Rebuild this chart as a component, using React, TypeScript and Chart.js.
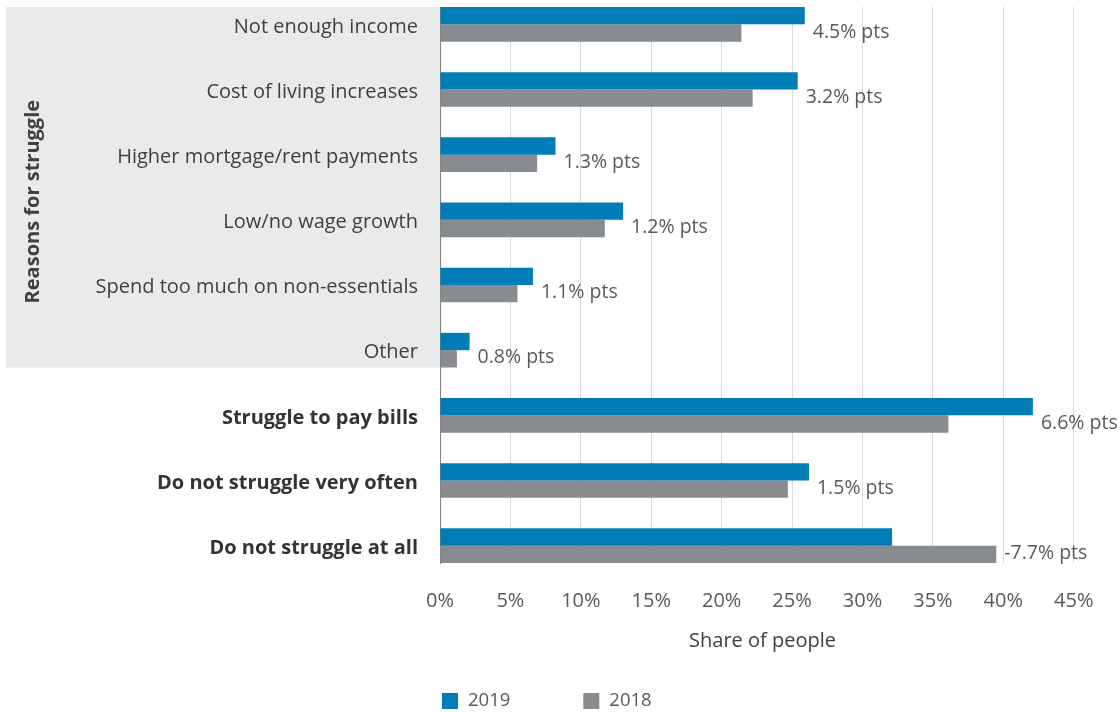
import React, { useEffect, useRef } from "react";
import { Chart, registerables } from "chart.js";

Chart.register(...registerables);

const FONT = "'Open Sans', 'Noto Sans', sans-serif";
Chart.defaults.font.family = FONT;
Chart.defaults.font.size = 20;

// ---- data ----
const categories = [
  "Not enough income",
  "Cost of living increases",
  "Higher mortgage/rent payments",
  "Low/no wage growth",
  "Spend too much on non-essentials",
  "Other",
  "Struggle to pay bills",
  "Do not struggle very often",
  "Do not struggle at all",
];
const boldFrom = 6; // categories from this index are shown in bold
const reasonsCount = 6; // first six categories belong to "Reasons for struggle"
const groupTitle = "Reasons for struggle";
const seriesNames = ["2019", "2018"];
const values2019 = [25.9, 25.4, 8.2, 13.0, 6.6, 2.1, 42.1, 26.2, 32.1];
const values2018 = [21.4, 22.2, 6.9, 11.7, 5.5, 1.2, 36.1, 24.7, 39.5];
const changeLabels = [
  "4.5% pts",
  "3.2% pts",
  "1.3% pts",
  "1.2% pts",
  "1.1% pts",
  "0.8% pts",
  "6.6% pts",
  "1.5% pts",
  "-7.7% pts",
];
const xTickValues = [0, 5, 10, 15, 20, 25, 30, 35, 40, 45];
const xTitle = "Share of people";

const BLUE = "#007cb7";
const GREY = "#888b8f";

const decorPlugin = {
  id: "decor",
  beforeDraw(chart: any) {
    const { ctx, chartArea } = chart;
    const b19 = chart.getDatasetMeta(0).data;
    const b18 = chart.getDatasetMeta(1).data;
    if (!b19.length) return;
    const first = b19[0];
    const last = b18[reasonsCount - 1];
    const top = first.y - first.height / 2;
    const bottom = last.y + last.height / 2;
    ctx.save();
    ctx.fillStyle = "#e9eaea";
    ctx.fillRect(6, top, chartArea.left - 6, bottom - top);
    ctx.translate(33.5, top + (bottom - top) * 0.54);
    ctx.rotate(-Math.PI / 2);
    ctx.font = `bold 20px ${FONT}`;
    ctx.fillStyle = "#404040";
    ctx.textAlign = "center";
    ctx.textBaseline = "middle";
    ctx.fillText(groupTitle, 0, 0);
    ctx.restore();
  },
  afterDatasetsDraw(chart: any) {
    const { ctx } = chart;
    const b19 = chart.getDatasetMeta(0).data;
    const b18 = chart.getDatasetMeta(1).data;
    ctx.save();
    ctx.font = `19.5px ${FONT}`;
    ctx.fillStyle = "#595959";
    ctx.textAlign = "left";
    ctx.textBaseline = "middle";
    changeLabels.forEach((t, i) => {
      const a = b19[i];
      const b = b18[i];
      if (!a || !b) return;
      const x = Math.max(a.x, b.x) + 8;
      ctx.fillText(t, x, b.y - 1);
    });
    ctx.restore();
  },
  afterDraw(chart: any) {
    const { ctx, chartArea } = chart;
    const yc = chart.height - 12;
    let x = chartArea.left + 2;
    ctx.save();
    ctx.font = `18.5px ${FONT}`;
    ctx.textAlign = "left";
    ctx.textBaseline = "middle";
    chart.data.datasets.forEach((ds: any) => {
      ctx.fillStyle = ds.backgroundColor;
      ctx.fillRect(x, yc - 8, 16, 16);
      ctx.fillStyle = "#595959";
      ctx.fillText(ds.label, x + 26, yc);
      x += 26 + ctx.measureText(ds.label).width + 73;
    });
    ctx.restore();
  },
};

export default function App() {
  const ref = useRef<HTMLCanvasElement | null>(null);

  useEffect(() => {
    if (!ref.current) return;
    const chart = new Chart(ref.current, {
      type: "bar",
      data: {
        datasets: [
          {
            label: seriesNames[0],
            data: values2019.map((v, i) => ({ x: v, y: i })),
            backgroundColor: BLUE,
            borderWidth: 0,
          },
          {
            label: seriesNames[1],
            data: values2018.map((v, i) => ({ x: v, y: i })),
            backgroundColor: GREY,
            borderWidth: 0,
          },
        ],
      },
      options: {
        animation: false,
        responsive: false,
        indexAxis: "y",
        layout: { padding: { top: 7, left: 0, right: 35, bottom: 60 } },
        plugins: {
          legend: { display: false },
          tooltip: { enabled: false },
        },
        datasets: {
          bar: { categoryPercentage: 0.532, barPercentage: 1 },
        },
        scales: {
          x: {
            type: "linear",
            position: "bottom",
            min: 0,
            max: 45.8,
            bounds: "data",
            grid: {
              color: "#d9d9d9",
              lineWidth: 1,
              drawTicks: true,
              tickLength: 26,
              tickColor: "rgba(0,0,0,0)",
            },
            border: { display: false },
            afterBuildTicks: (s: any) => {
              s.ticks = xTickValues.map((v) => ({ value: v }));
            },
            ticks: {
              padding: 0,
              color: "#595959",
              font: { size: 20 },
              autoSkip: false,
              maxRotation: 0,
              callback: (v: any) => `${v}%`,
            },
            title: {
              display: true,
              text: xTitle,
              color: "#404040",
              font: { size: 20 },
              padding: { top: 16, bottom: 0 },
            },
          },
          y: {
            type: "linear",
            position: "left",
            reverse: true,
            offset: false,
            bounds: "data",
            min: -0.266,
            max: 8.266,
            grid: { display: false, drawTicks: false, offset: false },
            border: { display: true, color: "#7f7f7f", width: 1 },
            afterBuildTicks: (s: any) => {
              s.ticks = categories.map((_, i) => ({ value: i }));
            },
            afterFit: (s: any) => {
              s.width = 440;
              s.paddingTop = 0;
              s.paddingBottom = 0;
            },
            ticks: {
              autoSkip: false,
              padding: 22,
              labelOffset: 2.5,
              color: (c: any) =>
                c.tick && c.tick.value >= boldFrom ? "#333333" : "#404040",
              font: (c: any) => ({
                family: FONT,
                size: 20,
                weight: c.tick && c.tick.value >= boldFrom ? "bold" : "normal",
              }),
              callback: (v: any) => categories[v] ?? "",
            },
          },
        },
      },
      plugins: [decorPlugin],
    } as any);
    return () => chart.destroy();
  }, []);

  return (
    <div style={{ position: "fixed", left: 0, top: 0, width: 1120, height: 713, background: "#fff" }}>
      <canvas ref={ref} width={1120} height={713} style={{ display: "block" }} />
    </div>
  );
}
